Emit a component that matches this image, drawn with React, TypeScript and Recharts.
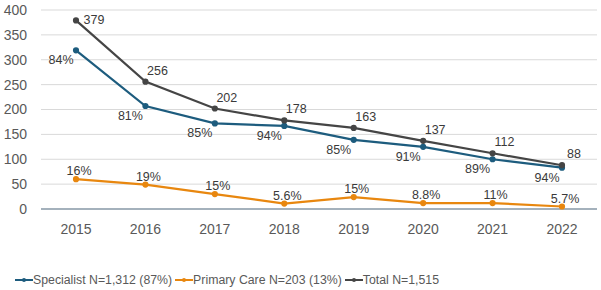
import { ReactElement } from 'react'
import { LineChart, Line, XAxis, YAxis, CartesianGrid, Legend } from 'recharts'

const years = ['2015', '2016', '2017', '2018', '2019', '2020', '2021', '2022']
const specialist = [319, 207, 172, 167, 139, 125, 100, 83]
const primaryCare = [60, 49, 30, 11, 24, 12, 12, 5]
const total = [379, 256, 202, 178, 163, 137, 112, 88]
const specialistPct = ['84%', '81%', '85%', '94%', '85%', '91%', '89%', '94%']
const primaryPct = ['16%', '19%', '15%', '5.6%', '15%', '8.8%', '11%', '5.7%']
const yTicks = [0, 50, 100, 150, 200, 250, 300, 350, 400]

const BLUE = '#1d5c7e'
const ORANGE = '#e8870f'
const GRAY = '#454545'
const FONT = '"Liberation Sans", Arial, sans-serif'

const data = years.map((year, i) => ({
    year,
    specialist: specialist[i],
    primary: primaryCare[i],
    total: total[i],
}))

const legendItems = [
    { label: 'Specialist N=1,312 (87%)', color: BLUE },
    { label: 'Primary Care N=203 (13%)', color: ORANGE },
    { label: 'Total N=1,515', color: GRAY },
]

const labelText = (x: number, y: number, text: string): ReactElement => (
    <text x={x} y={y} fill="#3a3a3a" fontSize={12.5} fontFamily={FONT} textAnchor="middle" dominantBaseline="central">
        {text}
    </text>
)

const SpecialistLabel = (props: any) => labelText(props.x - 15, props.y + 10, specialistPct[props.index])

const PrimaryLabel = (props: any) => labelText(props.x + 3, props.y - 8, primaryPct[props.index])

// first total label sits to the right, the rest above-right
const TotalLabel = (props: any) =>
    props.index === 0
        ? labelText(props.x + 18, props.y, String(props.value))
        : labelText(props.x + 12, props.y - 11, String(props.value))

const LegendContent = (): ReactElement => (
    <div style={{ display: 'flex', alignItems: 'center', fontFamily: FONT, fontSize: 12.3, color: '#595959' }}>
        {legendItems.map((item) => (
            <div key={item.label} style={{ display: 'flex', alignItems: 'center', marginRight: 3 }}>
                <svg width={18} height={10}>
                    <line x1={0} y1={5} x2={18} y2={5} stroke={item.color} strokeWidth={2} />
                    <circle cx={9} cy={5} r={2} fill={item.color} />
                </svg>
                <span>{item.label}</span>
            </div>
        ))}
    </div>
)

export default function App(): ReactElement {
    return (
        <div style={{ position: 'absolute', left: 0, top: 0, width: 601, height: 290, background: '#fff' }}>
            <LineChart width={601} height={290} data={data} margin={{ top: 10, right: 4, left: 0, bottom: 0 }}>
                <CartesianGrid horizontal vertical={false} stroke="#d9d9d9" />
                <XAxis
                    dataKey="year"
                    height={61}
                    padding={{ left: 35, right: 35 }}
                    tickSize={0}
                    tickMargin={15}
                    axisLine={{ stroke: '#8c9eac', strokeWidth: 1.5 }}
                    tick={{ fill: '#595959', fontSize: 14, fontFamily: FONT }}
                />
                <YAxis
                    width={41}
                    domain={[0, 400]}
                    ticks={yTicks}
                    axisLine={false}
                    tickLine={false}
                    tickSize={0}
                    tickMargin={14}
                    tick={{ fill: '#595959', fontSize: 14, fontFamily: FONT }}
                />
                <Legend
                    verticalAlign="bottom"
                    height={20}
                    content={<LegendContent />}
                    wrapperStyle={{ left: 15, top: 273 }}
                />
                <Line
                    dataKey="specialist"
                    stroke={BLUE}
                    strokeWidth={2.2}
                    dot={{ r: 2, fill: BLUE, stroke: BLUE }}
                    label={<SpecialistLabel />}
                    isAnimationActive={false}
                />
                <Line
                    dataKey="primary"
                    stroke={ORANGE}
                    strokeWidth={2.2}
                    dot={{ r: 2, fill: ORANGE, stroke: ORANGE }}
                    label={<PrimaryLabel />}
                    isAnimationActive={false}
                />
                <Line
                    dataKey="total"
                    stroke={GRAY}
                    strokeWidth={2.2}
                    dot={{ r: 2, fill: GRAY, stroke: GRAY }}
                    label={<TotalLabel />}
                    isAnimationActive={false}
                />
            </LineChart>
        </div>
    )
}
